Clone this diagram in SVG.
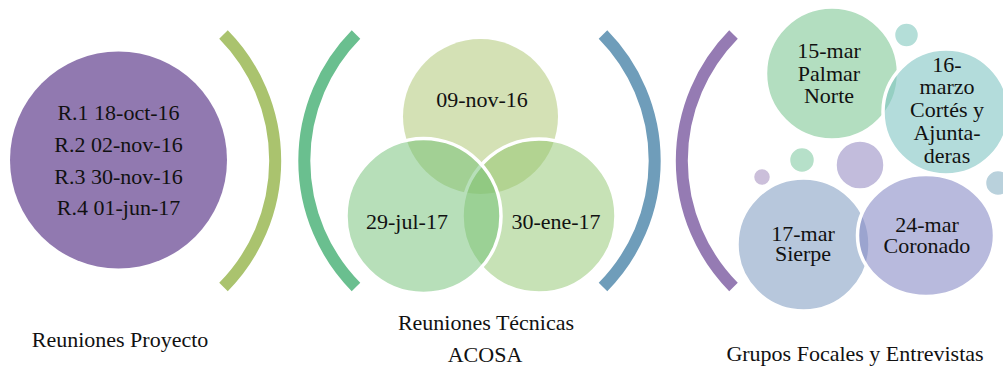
<svg xmlns="http://www.w3.org/2000/svg" width="1003" height="367" viewBox="0 0 1003 367">
<style>
text{font-family:"Liberation Serif","Times New Roman",serif;font-size:22px;fill:#111;text-anchor:middle}
.arc{fill:none;stroke-width:12;stroke-linecap:butt}
.ven{stroke:#fff;stroke-width:3.5}
.bub{stroke:#fff;stroke-width:3.5}
</style>
<rect width="1003" height="367" fill="#fff"/>
<g id="connectors">
<path class="arc" stroke="#AAC36E" d="M223.5 34.5 A180 180 0 0 1 223.5 287"/>
<path class="arc" stroke="#6ABF8F" d="M356 34.5 A180 180 0 0 0 356 287"/>
<path class="arc" stroke="#6F9DBA" d="M603 34.5 A180 180 0 0 1 603 287"/>
<path class="arc" stroke="#957BB3" d="M733.5 34.5 A180 180 0 0 0 733.5 287"/>
</g>
<g id="proyecto">
<circle cx="118.5" cy="160" r="108.5" fill="#9179B0"/>
<text x="118.5" y="120">R.1 18-oct-16</text>
<text x="118.5" y="152">R.2 02-nov-16</text>
<text x="118.5" y="184">R.3 30-nov-16</text>
<text x="118.5" y="215">R.4 01-jun-17</text>
<text x="120" y="347">Reuniones Proyecto</text>
</g>
<g id="tecnicas">
<circle cx="480.5" cy="116.5" r="77.5" fill="#A9C46C" fill-opacity="0.5"/>
<circle class="ven" cx="539" cy="216" r="77" fill="#8FC56E" fill-opacity="0.5"/>
<circle class="ven" cx="423.5" cy="216" r="77.5" fill="#70BF74" fill-opacity="0.5"/>
<text x="482" y="107">09-nov-16</text>
<text x="407" y="229">29-jul-17</text>
<text x="556" y="229">30-ene-17</text>
<text x="486" y="330">Reuniones Técnicas</text>
<text x="485" y="362">ACOSA</text>
</g>
<g id="grupos">
<circle class="bub" cx="906.5" cy="35" r="13" fill="#82C8BE" fill-opacity="0.6"/>
<circle class="bub" cx="832" cy="73.5" r="66.5" fill="#80C896" fill-opacity="0.6"/>
<circle class="bub" cx="946" cy="112" r="63" fill="#80C5C3" fill-opacity="0.6"/>
<circle class="bub" cx="802" cy="160" r="13.5" fill="#85CBA5" fill-opacity="0.6"/>
<circle class="bub" cx="860" cy="165" r="25" fill="#9A8FC5" fill-opacity="0.6"/>
<circle class="bub" cx="762" cy="177" r="9.5" fill="#A894C2" fill-opacity="0.6"/>
<circle class="bub" cx="998" cy="183" r="13.5" fill="#8AB2C5" fill-opacity="0.6"/>
<circle class="bub" cx="803.5" cy="244.5" r="66.5" fill="#87A2C5" fill-opacity="0.6"/>
<ellipse class="bub" cx="926" cy="235.5" rx="68.5" ry="61" fill="#898CC6" fill-opacity="0.6"/>
<text x="829" y="58">15-mar</text>
<text x="829" y="81">Palmar</text>
<text x="829" y="103">Norte</text>
<text x="947" y="72">16-</text>
<text x="947" y="94">marzo</text>
<text x="947" y="117">Cortés y</text>
<text x="947" y="140">Ajunta-</text>
<text x="947" y="163">deras</text>
<text x="803" y="241">17-mar</text>
<text x="803" y="261">Sierpe</text>
<text x="927" y="232">24-mar</text>
<text x="927" y="253">Coronado</text>
<text x="855" y="361">Grupos Focales y Entrevistas</text>
</g>
</svg>
